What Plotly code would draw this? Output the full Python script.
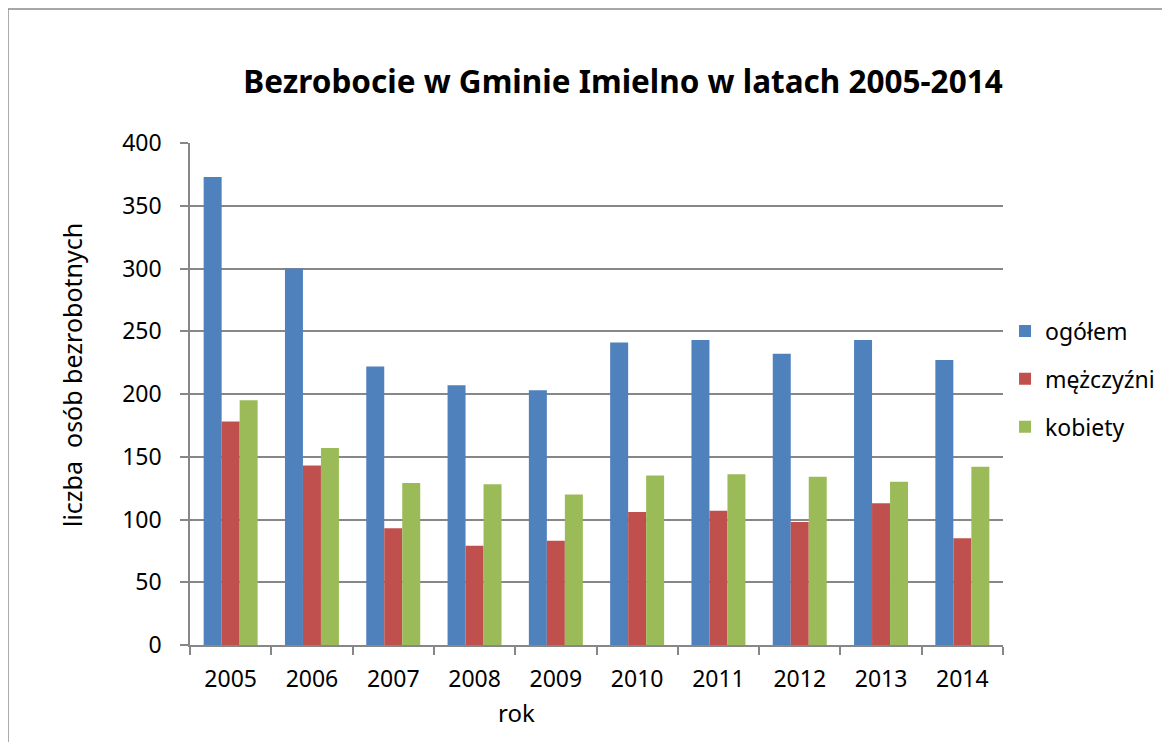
import plotly.graph_objects as go

# Bezrobocie w Gminie Imielno, 2005-2014
years = ["2005", "2006", "2007", "2008", "2009", "2010", "2011", "2012", "2013", "2014"]
ogolem = [373, 300, 222, 207, 203, 241, 243, 232, 243, 227]
mezczyzni = [178, 143, 93, 79, 83, 106, 107, 98, 113, 85]
kobiety = [195, 157, 129, 128, 120, 135, 136, 134, 130, 142]

series = [
  ("ogółem", ogolem, "#4F81BD"),
  ("mężczyźni", mezczyzni, "#C0504D"),
  ("kobiety", kobiety, "#9BBB59"),
]

FONT = "Noto Sans"
GRID = "#878787"

fig = go.Figure()
for name, vals, col in series:
  fig.add_trace(go.Bar(x=years, y=vals, name=name, legendgroup=name,
                       marker=dict(color=col, line=dict(width=0))))

# page body has an 8px margin, so margins are shifted by 8px
fig.update_layout(
  width=1170, height=742,
  margin=dict(l=182, r=175, t=135, b=105),
  paper_bgcolor="white", plot_bgcolor="white",
  font=dict(family=FONT, size=23, color="black"),
  barmode="group", bargap=0.336, bargroupgap=0,
  title=dict(text="<b>Bezrobocie w Gminie Imielno w latach 2005-2014</b>",
             font=dict(size=31.5, family=FONT, color="black"),
             x=0.5326, xref="paper", xanchor="center",
             y=1 - 74 / 742, yref="container", yanchor="middle"),
  legend=dict(x=1.0025, y=0.53, xanchor="left", yanchor="middle",
              font=dict(size=23), tracegroupgap=15, traceorder="grouped",
              bgcolor="rgba(0,0,0,0)"),
  showlegend=True,
)

fig.update_xaxes(type="category", showgrid=False, showline=True, linecolor=GRID, linewidth=1.5,
                 ticks="outside", tickson="boundaries", ticklen=8, tickcolor=GRID, tickwidth=1.5,
                 ticklabelstandoff=13)
fig.update_yaxes(range=[0, 400], dtick=50, showgrid=True, gridcolor=GRID, gridwidth=1.5,
                 showline=True, linecolor=GRID, linewidth=1.5, zeroline=False,
                 ticks="outside", ticklen=8, tickcolor=GRID, tickwidth=1.5,
                 ticklabelstandoff=14)

# axis titles
fig.add_annotation(text="rok", x=0.402, y=-0.1335, xref="paper", yref="paper",
                   showarrow=False, xanchor="center", yanchor="middle", font=dict(size=24))
fig.add_annotation(text="liczba  osób bezrobotnych", x=-0.145, y=0.538, xref="paper", yref="paper",
                   showarrow=False, textangle=-90, xanchor="center", yanchor="middle", font=dict(size=25))

# outer frame (left and top edges only visible)
fig.add_shape(type="line", xref="paper", yref="paper", x0=-0.2239, x1=-0.2239, y0=1.2669, y1=-0.25,
              line=dict(color="#8a8a8a", width=1.5))
fig.add_shape(type="line", xref="paper", yref="paper", x0=-0.2239, x1=1.25, y0=1.2669, y1=1.2669,
              line=dict(color="#8a8a8a", width=1.5))

fig.write_html("out.html")
